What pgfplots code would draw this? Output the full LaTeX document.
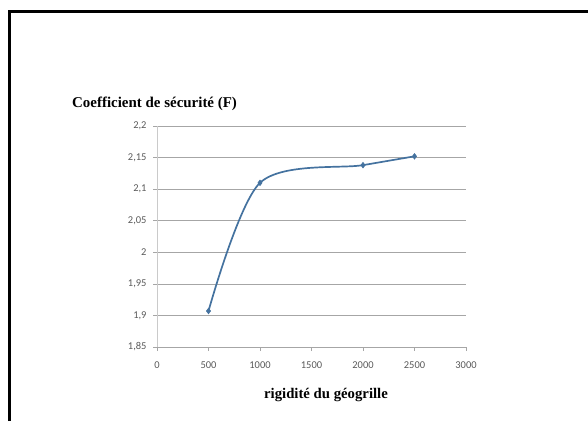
\documentclass[border=0pt]{standalone}
\usepackage{pgfplots}
\pgfplotsset{compat=1.18}
\usepackage{fontspec}
\setmainfont{Liberation Serif}
\newfontfamily\tickfont{Carlito}
\definecolor{serie}{HTML}{44729F}
\definecolor{grille}{HTML}{A6A6A6}
\definecolor{txt}{HTML}{595959}

\begin{document}
\begin{tikzpicture}[x=1bp,y=1bp]
    % cadre de la page
    \useasboundingbox (0,0) rectangle (588,421);
    \draw[line width=3.5bp] (9.5,0) -- (9.5,409.5) -- (588,409.5);
    \coordinate (coin) at (157,74);

    \begin{axis}[
        at = {(coin)},
        anchor = south west,
        scale only axis,
        width = 309bp,
        height = 221bp,
        xmin = 0, xmax = 3000,
        ymin = 1.85, ymax = 2.2,
        xtick = {0,500,...,3000},
        ytick = {1.85,1.9,...,2.21},
        axis x line* = bottom,
        axis y line* = left,
        x axis line style = {draw=grille, -},
        y axis line style = {draw=grille!60, -},
        ymajorgrids,
        grid style = {grille, line width=0.6pt},
        tick style = {grille, line width=0.5pt},
        tick align = outside,
        major tick length = 4bp,
        /pgf/number format/assume math mode = true,
        /pgf/number format/use comma,
        /pgf/number format/1000 sep = {},
        yticklabel style = {/pgf/number format/fixed, /pgf/number format/precision=2, font=\tickfont\fontsize{10.5}{12}\selectfont, text=txt, xshift=-3bp},
        xticklabel style = {font=\tickfont\fontsize{10.5}{12}\selectfont, text=txt, yshift=-7bp},
        clip = false,
    ]
        \addplot[
            serie,
            line width = 1.7pt,
            smooth,
            mark = diamond*,
            mark size = 2.8pt,
            mark options = {fill=serie, draw=serie, line width=0.6pt}
        ]
        table {
            x     y
            500   1.907
            1000  2.110
            2000  2.138
            2500  2.152
        };
    \end{axis}

    \node[font=\bfseries\fontsize{15}{17}\selectfont, anchor=west, inner sep=0pt] at (72,317) {Coefficient de sécurité (F)};
    \node[font=\bfseries\fontsize{14.8}{17}\selectfont, inner sep=0pt] at (326,26) {rigidité du géogrille};
\end{tikzpicture}
\end{document}
